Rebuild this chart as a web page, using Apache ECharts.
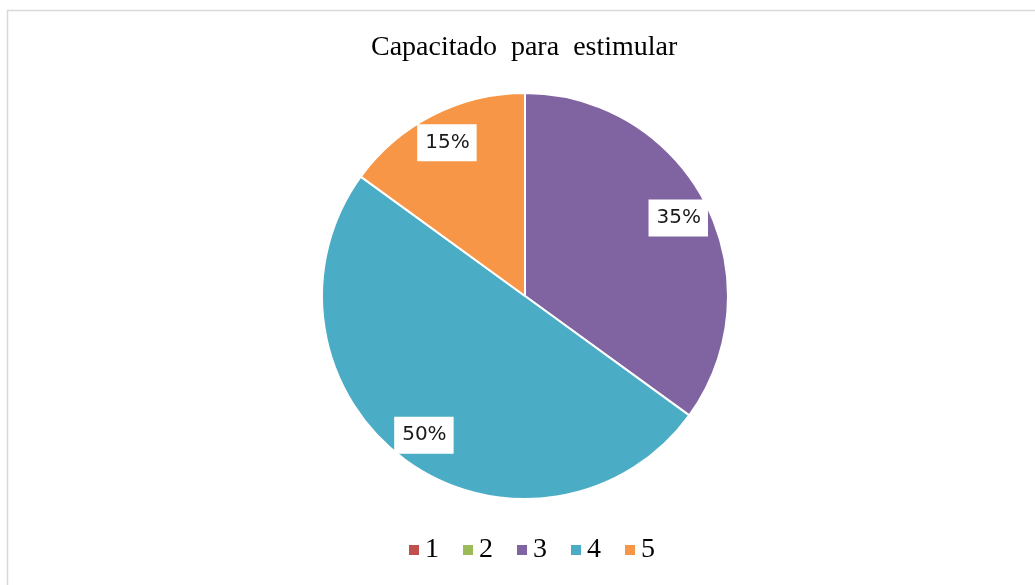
<!DOCTYPE html>
<html>
<head>
<meta charset="utf-8">
<script src="https://cdn.jsdelivr.net/npm/echarts@6/dist/echarts.min.js"></script>
<style>
  html, body { margin: 0; padding: 0; background: #fff; }
  #chart { width: 1035px; height: 585px; }
</style>
</head>
<body>
<div id="chart"></div>
<script>
  // Capacitado para estimular - pie
  var titleText = 'Capacitado  para  estimular';
  var categories = ['1', '2', '3', '4', '5'];
  var values = [0, 0, 35, 50, 15];
  var colors = ['#C0504D', '#9BBB59', '#8064A2', '#4BACC6', '#F79646'];

  var myChart = echarts.init(document.getElementById('chart'));

  let pieData = categories.map(function (name, i) {
    return { name: name, value: values[i] };
  });
  // same slices, only used to place labels a bit further out
  let labelData = categories.map(function (name, i) {
    return { name: name, value: values[i], label: { show: values[i] > 0 } };
  });

  let options = {
    backgroundColor: '#fff',
    color: colors,
    animation: false,
    title: {
      text: titleText,
      left: 366,
      top: 29,
      textStyle: {
        fontFamily: 'Liberation Serif',
        fontSize: 28,
        fontWeight: 'normal',
        color: '#000'
      }
    },
    legend: {
      bottom: 16,
      left: 402,
      data: categories,
      icon: 'rect',
      itemWidth: 12,
      itemHeight: 12,
      itemGap: 22,
      textStyle: {
        fontFamily: 'Liberation Serif',
        fontSize: 28,
        color: '#000'
      }
    },
    graphic: [{
      type: 'rect',
      shape: { x: 7.5, y: 10.5, width: 1100, height: 700 },
      style: { fill: 'none', stroke: '#d9d9d9', lineWidth: 1.5 },
      silent: true
    }],
    series: [
      {
        name: 'main',
        type: 'pie',
        center: [525, 296],
        radius: [0, 203],
        startAngle: 90,
        clockwise: true,
        label: { show: false },
        labelLine: { show: false },
        itemStyle: { borderColor: '#fff', borderWidth: 2 },
        emphasis: { disabled: true },
        data: pieData
      },
      {
        name: 'labels',
        type: 'pie',
        center: [525, 296],
        radius: [132, 206],
        startAngle: 90,
        clockwise: true,
        silent: true,
        itemStyle: { color: 'rgba(0,0,0,0)' },
        labelLine: { show: false },
        label: {
          position: 'inside',
          formatter: '{d}%',
          fontFamily: 'DejaVu Sans',
          fontSize: 20,
          color: '#1a1a1a',
          backgroundColor: '#fff',
          padding: [9, 7, 8, 8]
        },
        emphasis: { disabled: true },
        data: labelData
      }
    ]
  };

  myChart.setOption(options);
</script>
</body>
</html>
